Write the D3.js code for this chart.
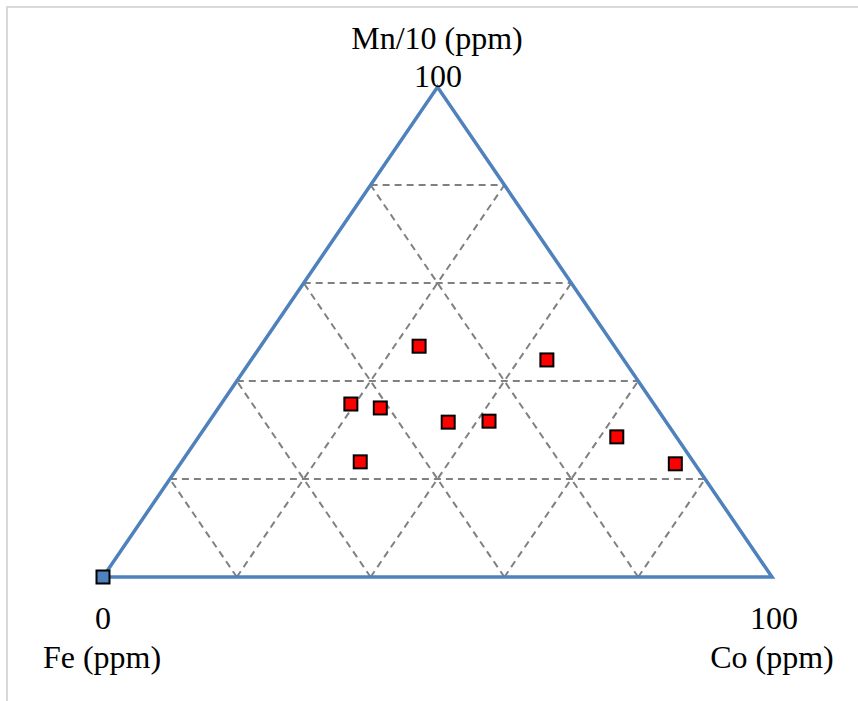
<!DOCTYPE html>
<html>
<head>
<meta charset="utf-8">
<script src="https://cdn.jsdelivr.net/npm/d3@7"></script>
<style>
	html, body { margin: 0; padding: 0; background: #fff; }
	svg { display: block; }
	text { font-family: 'Liberation Serif', 'Times New Roman', serif; fill: #000; }
</style>
</head>
<body>
<div id="chart"></div>
<script>
// ternary compositions (percent), Fe = 100 - Co - Mn
const samplesCo = [23.7, 44.2, 19.4, 24.2, 35.8, 41.8, 62.5, 74.0, 26.7];
const samplesMn = [47.1, 44.3, 35.3, 34.5, 31.6, 31.8, 28.6, 23.1, 23.5];
const originCo = [0];
const originMn = [0];
const gridSteps = [20, 40, 60, 80];

const width = 858;
const height = 701;

const svg = d3.select('#chart').append('svg').attr('width', width).attr('height', height);

// light frame round the picture
svg
	.append('path')
	.attr('d', `M7,${height} L7,7 L${width},7`)
	.attr('fill', 'none')
	.attr('stroke', '#d9d9d9')
	.attr('stroke-width', 2);

// x: 0..100 along the base, y: 0..100 up to the apex
const xScale = d3.scaleLinear().domain([0, 100]).range([103, 772]);
const yScale = d3.scaleLinear().domain([0, 100]).range([577, 87]);

// ternary -> plot coordinates
const tx = (co, mn) => xScale(co + mn / 2);
const ty = (mn) => yScale(mn);

// dashed grid
const grid = svg.append('g').attr('id', 'grid');
const gridLines = [];
gridSteps.forEach((k) => {
	gridLines.push([[k / 2, k], [100 - k / 2, k]]); // constant Mn
	gridLines.push([[k, 0], [k / 2 + 50, 100 - k]]); // parallel to left side
	gridLines.push([[k, 0], [k / 2, k]]); // parallel to right side
});
grid
	.selectAll('line')
	.data(gridLines)
	.enter()
	.append('line')
	.attr('x1', (d) => xScale(d[0][0]))
	.attr('y1', (d) => yScale(d[0][1]))
	.attr('x2', (d) => xScale(d[1][0]))
	.attr('y2', (d) => yScale(d[1][1]))
	.attr('stroke', '#808080')
	.attr('stroke-width', 2)
	.attr('stroke-dasharray', '7,5');

// triangle outline
const corners = [[0, 0], [100, 0], [50, 100]];
svg
	.append('path')
	.attr('d', d3.line().x((d) => xScale(d[0])).y((d) => yScale(d[1]))(corners) + 'Z')
	.attr('fill', 'none')
	.attr('stroke', '#4f81bd')
	.attr('stroke-width', 3.5)
	.attr('stroke-linejoin', 'miter');

// markers
const size = 13;
svg
	.append('g')
	.selectAll('rect')
	.data(originCo)
	.enter()
	.append('rect')
	.attr('x', (d, i) => tx(d, originMn[i]) - size / 2)
	.attr('y', (d, i) => ty(originMn[i]) - size / 2)
	.attr('width', size)
	.attr('height', size)
	.attr('fill', '#4f81bd')
	.attr('stroke', '#000')
	.attr('stroke-width', 2);

svg
	.append('g')
	.selectAll('rect')
	.data(samplesCo)
	.enter()
	.append('rect')
	.attr('x', (d, i) => tx(d, samplesMn[i]) - size / 2)
	.attr('y', (d, i) => ty(samplesMn[i]) - size / 2)
	.attr('width', size)
	.attr('height', size)
	.attr('fill', '#ff0000')
	.attr('stroke', '#000')
	.attr('stroke-width', 2);

// labels
const labels = [
	{ text: 'Mn/10 (ppm)', x: 437, y: 49 },
	{ text: '100', x: 438, y: 87 },
	{ text: '0', x: 103, y: 629 },
	{ text: 'Fe (ppm)', x: 102, y: 668 },
	{ text: '100', x: 774, y: 629 },
	{ text: 'Co (ppm)', x: 772, y: 668 }
];
svg
	.append('g')
	.selectAll('text')
	.data(labels)
	.enter()
	.append('text')
	.attr('x', (d) => d.x)
	.attr('y', (d) => d.y)
	.attr('text-anchor', 'middle')
	.style('font-size', '32px')
	.text((d) => d.text);
</script>
</body>
</html>
